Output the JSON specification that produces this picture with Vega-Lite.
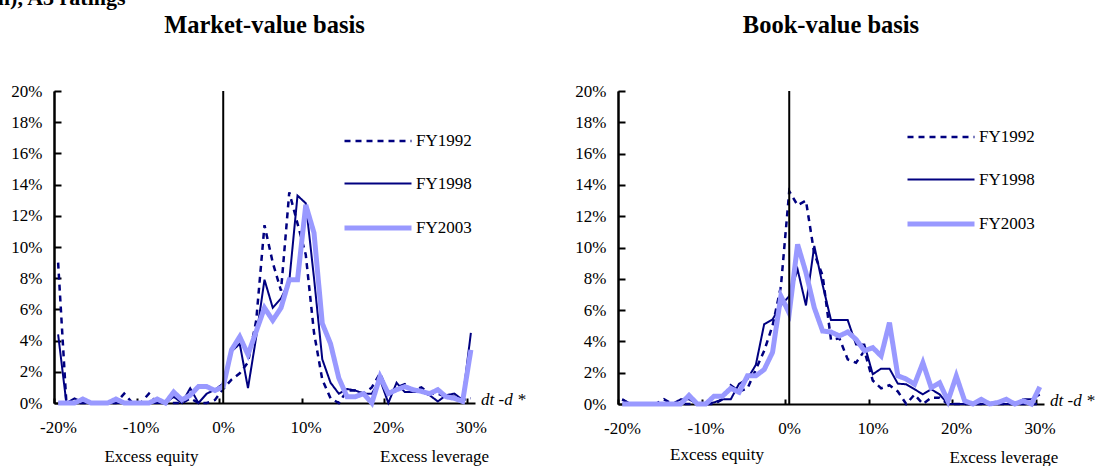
{
  "$schema": "https://vega.github.io/schema/vega-lite/v6.json",
  "background": "white",
  "padding": {"left": -3, "top": -14, "right": 0, "bottom": 0},
  "title": {"text": "n), A3 ratings", "anchor": "start", "dx": -13, "offset": 3, "font": "Liberation Serif", "fontSize": 22, "fontWeight": "bold", "color": "black"},
  "config": {
    "font": "Liberation Serif",
    "view": {"stroke": null},
    "axis": {"labelFont": "Liberation Serif", "labelFontSize": 17, "labelFontWeight": "normal", "labelColor": "black", "domainColor": "black", "tickColor": "black", "domainWidth": 2, "tickWidth": 2, "grid": false, "title": null, "labelFlush": false},
    "title": {"font": "Liberation Serif", "fontSize": 24.5, "fontWeight": "bold", "color": "black", "offset": 44},
    "legend": {"labelFont": "Liberation Serif", "labelFontSize": 17, "labelFontWeight": "normal", "labelColor": "black"},
    "text": {"font": "Liberation Serif", "fontWeight": "normal"}
  },
  "datasets": {
    "market": [
      {"bin": -20, "FY1992": 9.0, "FY1998": 4.4, "FY2003": 0},
      {"bin": -19, "FY1992": 0, "FY1998": 0, "FY2003": 0},
      {"bin": -18, "FY1992": 0, "FY1998": 0.3, "FY2003": 0},
      {"bin": -17, "FY1992": 0, "FY1998": 0, "FY2003": 0.25},
      {"bin": -16, "FY1992": 0, "FY1998": 0, "FY2003": 0},
      {"bin": -15, "FY1992": 0, "FY1998": 0, "FY2003": 0},
      {"bin": -14, "FY1992": 0, "FY1998": 0, "FY2003": 0},
      {"bin": -13, "FY1992": 0, "FY1998": 0, "FY2003": 0.25},
      {"bin": -12, "FY1992": 0.6, "FY1998": 0, "FY2003": 0},
      {"bin": -11, "FY1992": 0, "FY1998": 0, "FY2003": 0},
      {"bin": -10, "FY1992": 0, "FY1998": 0, "FY2003": 0},
      {"bin": -9, "FY1992": 0.6, "FY1998": 0, "FY2003": 0},
      {"bin": -8, "FY1992": 0, "FY1998": 0, "FY2003": 0.25},
      {"bin": -7, "FY1992": 0, "FY1998": 0, "FY2003": 0},
      {"bin": -6, "FY1992": 0, "FY1998": 0.4, "FY2003": 0.7},
      {"bin": -5, "FY1992": 0, "FY1998": 0, "FY2003": 0.2},
      {"bin": -4, "FY1992": 0.3, "FY1998": 0.95, "FY2003": 0.5},
      {"bin": -3, "FY1992": 0, "FY1998": 0, "FY2003": 1.05},
      {"bin": -2, "FY1992": 0, "FY1998": 0.6, "FY2003": 1.05},
      {"bin": -1, "FY1992": 0.2, "FY1998": 0.85, "FY2003": 0.8},
      {"bin": 0, "FY1992": 0.9, "FY1998": 1.25, "FY2003": 1.05},
      {"bin": 1, "FY1992": 1.5, "FY1998": 3.3, "FY2003": 3.4},
      {"bin": 2, "FY1992": 1.9, "FY1998": 3.8, "FY2003": 4.25},
      {"bin": 3, "FY1992": 2.6, "FY1998": 0.95, "FY2003": 3.1},
      {"bin": 4, "FY1992": 5.3, "FY1998": 4.25, "FY2003": 4.6},
      {"bin": 5, "FY1992": 11.4, "FY1998": 7.9, "FY2003": 6.1},
      {"bin": 6, "FY1992": 9.0, "FY1998": 6.1, "FY2003": 5.3},
      {"bin": 7, "FY1992": 7.2, "FY1998": 6.7, "FY2003": 6.1},
      {"bin": 8, "FY1992": 13.5, "FY1998": 7.8, "FY2003": 7.9},
      {"bin": 9, "FY1992": 11.5, "FY1998": 13.3, "FY2003": 7.9},
      {"bin": 10, "FY1992": 9.5, "FY1998": 12.8, "FY2003": 12.7},
      {"bin": 11, "FY1992": 4.5, "FY1998": 8.0, "FY2003": 10.9},
      {"bin": 12, "FY1992": 1.5, "FY1998": 2.8, "FY2003": 5.1},
      {"bin": 13, "FY1992": 0.3, "FY1998": 1.3, "FY2003": 3.8},
      {"bin": 14, "FY1992": 0, "FY1998": 0.6, "FY2003": 1.6},
      {"bin": 15, "FY1992": 0.8, "FY1998": 0.9, "FY2003": 0.4},
      {"bin": 16, "FY1992": 0.8, "FY1998": 0.8, "FY2003": 0.4},
      {"bin": 17, "FY1992": 0.6, "FY1998": 0.6, "FY2003": 0.6},
      {"bin": 18, "FY1992": 1.0, "FY1998": 0.6, "FY2003": 0},
      {"bin": 19, "FY1992": 1.9, "FY1998": 1.5, "FY2003": 1.7},
      {"bin": 20, "FY1992": 0.6, "FY1998": 0, "FY2003": 0.6},
      {"bin": 21, "FY1992": 1.0, "FY1998": 1.3, "FY2003": 0.85},
      {"bin": 22, "FY1992": 1.2, "FY1998": 0.7, "FY2003": 1.05},
      {"bin": 23, "FY1992": 0.8, "FY1998": 0.7, "FY2003": 0.85},
      {"bin": 24, "FY1992": 1.0, "FY1998": 0.7, "FY2003": 0.75},
      {"bin": 25, "FY1992": 0.6, "FY1998": 0.5, "FY2003": 0.6},
      {"bin": 26, "FY1992": 0.6, "FY1998": 0.1, "FY2003": 0.85},
      {"bin": 27, "FY1992": 0.4, "FY1998": 0.5, "FY2003": 0.4},
      {"bin": 28, "FY1992": 0.4, "FY1998": 0.6, "FY2003": 0.3},
      {"bin": 29, "FY1992": 0.2, "FY1998": 0.2, "FY2003": 0.1},
      {"bin": 30, "FY1992": 0.3, "FY1998": 4.5, "FY2003": 3.4}
    ],
    "book": [
      {"bin": -20, "FY1992": 0.3, "FY1998": 0.3, "FY2003": 0},
      {"bin": -19, "FY1992": 0, "FY1998": 0, "FY2003": 0},
      {"bin": -18, "FY1992": 0, "FY1998": 0, "FY2003": 0},
      {"bin": -17, "FY1992": 0, "FY1998": 0, "FY2003": 0},
      {"bin": -16, "FY1992": 0, "FY1998": 0, "FY2003": 0},
      {"bin": -15, "FY1992": 0.3, "FY1998": 0, "FY2003": 0},
      {"bin": -14, "FY1992": 0, "FY1998": 0, "FY2003": 0},
      {"bin": -13, "FY1992": 0, "FY1998": 0.3, "FY2003": 0},
      {"bin": -12, "FY1992": 0, "FY1998": 0.3, "FY2003": 0.55},
      {"bin": -11, "FY1992": 0, "FY1998": 0, "FY2003": 0},
      {"bin": -10, "FY1992": 0, "FY1998": 0, "FY2003": 0},
      {"bin": -9, "FY1992": 0, "FY1998": 0.1, "FY2003": 0.5},
      {"bin": -8, "FY1992": 0.3, "FY1998": 0.3, "FY2003": 0.5},
      {"bin": -7, "FY1992": 1.2, "FY1998": 0.3, "FY2003": 1.0},
      {"bin": -6, "FY1992": 0.8, "FY1998": 1.3, "FY2003": 0.75},
      {"bin": -5, "FY1992": 1.0, "FY1998": 1.6, "FY2003": 1.8},
      {"bin": -4, "FY1992": 2.2, "FY1998": 2.5, "FY2003": 1.8},
      {"bin": -3, "FY1992": 3.4, "FY1998": 5.1, "FY2003": 2.2},
      {"bin": -2, "FY1992": 5.0, "FY1998": 5.4, "FY2003": 3.3},
      {"bin": -1, "FY1992": 7.5, "FY1998": 6.3, "FY2003": 6.9},
      {"bin": 0, "FY1992": 13.6, "FY1998": 6.9, "FY2003": 5.8},
      {"bin": 1, "FY1992": 12.7, "FY1998": 8.6, "FY2003": 10.2},
      {"bin": 2, "FY1992": 13.0, "FY1998": 6.3, "FY2003": 8.4},
      {"bin": 3, "FY1992": 9.6, "FY1998": 10.1, "FY2003": 6.15},
      {"bin": 4, "FY1992": 8.2, "FY1998": 7.6, "FY2003": 4.66},
      {"bin": 5, "FY1992": 4.1, "FY1998": 5.36, "FY2003": 4.6},
      {"bin": 6, "FY1992": 4.2, "FY1998": 5.36, "FY2003": 4.35},
      {"bin": 7, "FY1992": 2.85, "FY1998": 5.36, "FY2003": 4.6},
      {"bin": 8, "FY1992": 2.64, "FY1998": 3.8, "FY2003": 4.13},
      {"bin": 9, "FY1992": 3.4, "FY1998": 3.8, "FY2003": 3.4},
      {"bin": 10, "FY1992": 1.5, "FY1998": 1.9, "FY2003": 3.6},
      {"bin": 11, "FY1992": 1.0, "FY1998": 2.26, "FY2003": 3.07},
      {"bin": 12, "FY1992": 1.2, "FY1998": 2.26, "FY2003": 5.2},
      {"bin": 13, "FY1992": 0.8, "FY1998": 1.3, "FY2003": 1.8},
      {"bin": 14, "FY1992": 0, "FY1998": 1.26, "FY2003": 1.6},
      {"bin": 15, "FY1992": 0.6, "FY1998": 0.94, "FY2003": 1.26},
      {"bin": 16, "FY1992": 0, "FY1998": 0.62, "FY2003": 2.64},
      {"bin": 17, "FY1992": 0.4, "FY1998": 0.94, "FY2003": 1.04},
      {"bin": 18, "FY1992": 0.4, "FY1998": 0.62, "FY2003": 1.36},
      {"bin": 19, "FY1992": 0, "FY1998": 0, "FY2003": 0.19},
      {"bin": 20, "FY1992": 0, "FY1998": 0, "FY2003": 1.79},
      {"bin": 21, "FY1992": 0, "FY1998": 0, "FY2003": 0.2},
      {"bin": 22, "FY1992": 0, "FY1998": 0, "FY2003": 0},
      {"bin": 23, "FY1992": 0, "FY1998": 0, "FY2003": 0.3},
      {"bin": 24, "FY1992": 0, "FY1998": 0, "FY2003": 0},
      {"bin": 25, "FY1992": 0, "FY1998": 0, "FY2003": 0.1},
      {"bin": 26, "FY1992": 0, "FY1998": 0, "FY2003": 0.3},
      {"bin": 27, "FY1992": 0, "FY1998": 0, "FY2003": 0},
      {"bin": 28, "FY1992": 0, "FY1998": 0.3, "FY2003": 0.2},
      {"bin": 29, "FY1992": 0, "FY1998": 0.3, "FY2003": 0},
      {"bin": 30, "FY1992": 0, "FY1998": 0.6, "FY2003": 1.1}
    ]
  },
  "spacing": 48,
  "resolve": {
    "scale": {"x": "independent", "y": "independent", "color": "independent", "strokeDash": "independent", "strokeWidth": "independent"},
    "legend": {"color": "independent", "strokeDash": "independent", "strokeWidth": "independent"}
  },
  "hconcat": [
    {
      "width": 421,
      "height": 312,
      "title": {"text": "Market-value basis"},
      "resolve": {"axis": {"y": "independent"}},
      "layer": [
        {
          "data": {"name": "market"},
          "transform": [{"fold": ["FY1992", "FY1998", "FY2003"], "as": ["series", "share"]}],
          "mark": {"type": "line"},
          "encoding": {
            "x": {"field": "bin", "type": "quantitative", "scale": {"domain": [-20.5, 30.5], "nice": false, "zero": false},
              "axis": {"values": [-20.5, -10.5, -0.5, 9.5, 19.5, 29.5], "labelExpr": "(datum.value + 0.5) + '%'", "labelFont": "Liberation Serif", "labelFontSize": 17, "labelOverlap": false, "labelFlush": false, "labelOffset": 4, "tickSize": -5, "labelPadding": 21}},
            "y": {"field": "share", "type": "quantitative", "scale": {"domain": [0, 20], "nice": false},
              "axis": {"orient": "left", "values": [0, 4, 8, 12, 16, 20], "labelExpr": "datum.value + '%'", "labelFont": "Liberation Serif", "labelFontSize": 17, "labelOverlap": false, "labelFlush": false, "tickSize": -7, "labelPadding": 19}},
            "color": {"field": "series", "type": "nominal", "scale": {"domain": ["FY1992", "FY1998", "FY2003"], "range": ["#000080", "#000080", "#9999FF"]},
              "legend": {"orient": "none", "legendX": 288, "legendY": 15, "title": null, "symbolType": "stroke", "symbolSize": 4489, "labelOffset": 2, "rowPadding": -1, "labelFont": "Liberation Serif", "labelFontSize": 17}},
            "strokeDash": {"field": "series", "type": "nominal", "scale": {"domain": ["FY1992", "FY1998", "FY2003"], "range": [[6, 5], [1, 0], [1, 0]]}},
            "strokeWidth": {"field": "series", "type": "nominal", "scale": {"type": "ordinal", "domain": ["FY1992", "FY1998", "FY2003"], "range": [2.5, 2, 5]}}
          }
        },
        {"data": {"values": [{}]}, "mark": {"type": "rule", "color": "black", "strokeWidth": 2}, "encoding": {"x": {"datum": 0}}},
        {"data": {"values": [{}]}, "mark": {"type": "text", "align": "left", "baseline": "alphabetic", "dx": 6, "dy": 2, "font": "Liberation Serif", "fontStyle": "italic", "fontWeight": "normal", "fontSize": 17, "color": "black"},
          "encoding": {"x": {"datum": 30.5}, "y": {"datum": 0, "axis": {"orient": "left", "values": [2, 6, 10, 14, 18], "labelExpr": "datum.value + '%'", "labelFont": "Liberation Serif", "labelFontSize": 17, "labelOverlap": false, "labelFlush": false, "tickSize": -7, "labelPadding": 19}}, "text": {"value": "dt -d *"}}},
        {"data": {"values": [{}]}, "mark": {"type": "text", "align": "center", "baseline": "alphabetic", "dy": 59, "font": "Liberation Serif", "fontWeight": "normal", "fontSize": 17, "color": "black"},
          "encoding": {"x": {"datum": -8.7}, "y": {"datum": 0, "axis": null}, "text": {"value": "Excess equity"}}},
        {"data": {"values": [{}]}, "mark": {"type": "text", "align": "center", "baseline": "alphabetic", "dy": 59, "font": "Liberation Serif", "fontWeight": "normal", "fontSize": 17, "color": "black"},
          "encoding": {"x": {"datum": 25.6}, "y": {"datum": 0, "axis": null}, "text": {"value": "Excess leverage"}}}
      ]
    },
    {
      "width": 426,
      "height": 313,
      "title": {"text": "Book-value basis"},
      "resolve": {"axis": {"y": "independent"}},
      "layer": [
        {
          "data": {"name": "book"},
          "transform": [{"fold": ["FY1992", "FY1998", "FY2003"], "as": ["series", "share"]}],
          "mark": {"type": "line"},
          "encoding": {
            "x": {"field": "bin", "type": "quantitative", "scale": {"domain": [-20.5, 30.5], "nice": false, "zero": false},
              "axis": {"values": [-20.5, -10.5, -0.5, 9.5, 19.5, 29.5], "labelExpr": "(datum.value + 0.5) + '%'", "labelFont": "Liberation Serif", "labelFontSize": 17, "labelOverlap": false, "labelFlush": false, "labelOffset": 4, "tickSize": -5, "labelPadding": 21}},
            "y": {"field": "share", "type": "quantitative", "scale": {"domain": [0, 20], "nice": false},
              "axis": {"orient": "left", "values": [0, 4, 8, 12, 16, 20], "labelExpr": "datum.value + '%'", "labelFont": "Liberation Serif", "labelFontSize": 17, "labelOverlap": false, "labelFlush": false, "tickSize": -7, "labelPadding": 19}},
            "color": {"field": "series", "type": "nominal", "scale": {"domain": ["FY1992", "FY1998", "FY2003"], "range": ["#000080", "#000080", "#9999FF"]},
              "legend": {"orient": "none", "legendX": 287, "legendY": 11, "title": null, "symbolType": "stroke", "symbolSize": 4489, "labelOffset": 2, "rowPadding": -1, "labelFont": "Liberation Serif", "labelFontSize": 17}},
            "strokeDash": {"field": "series", "type": "nominal", "scale": {"domain": ["FY1992", "FY1998", "FY2003"], "range": [[6, 5], [1, 0], [1, 0]]}},
            "strokeWidth": {"field": "series", "type": "nominal", "scale": {"type": "ordinal", "domain": ["FY1992", "FY1998", "FY2003"], "range": [2.5, 2, 5]}}
          }
        },
        {"data": {"values": [{}]}, "mark": {"type": "rule", "color": "black", "strokeWidth": 2}, "encoding": {"x": {"datum": 0}}},
        {"data": {"values": [{}]}, "mark": {"type": "text", "align": "left", "baseline": "alphabetic", "dx": 6, "dy": 2, "font": "Liberation Serif", "fontStyle": "italic", "fontWeight": "normal", "fontSize": 17, "color": "black"},
          "encoding": {"x": {"datum": 30.5}, "y": {"datum": 0, "axis": {"orient": "left", "values": [2, 6, 10, 14, 18], "labelExpr": "datum.value + '%'", "labelFont": "Liberation Serif", "labelFontSize": 17, "labelOverlap": false, "labelFlush": false, "tickSize": -7, "labelPadding": 19}}, "text": {"value": "dt -d *"}}},
        {"data": {"values": [{}]}, "mark": {"type": "text", "align": "center", "baseline": "alphabetic", "dy": 56, "font": "Liberation Serif", "fontWeight": "normal", "fontSize": 17, "color": "black"},
          "encoding": {"x": {"datum": -8.65}, "y": {"datum": 0, "axis": null}, "text": {"value": "Excess equity"}}},
        {"data": {"values": [{}]}, "mark": {"type": "text", "align": "center", "baseline": "alphabetic", "dy": 59, "font": "Liberation Serif", "fontWeight": "normal", "fontSize": 17, "color": "black"},
          "encoding": {"x": {"datum": 25.7}, "y": {"datum": 0, "axis": null}, "text": {"value": "Excess leverage"}}}
      ]
    }
  ]
}
